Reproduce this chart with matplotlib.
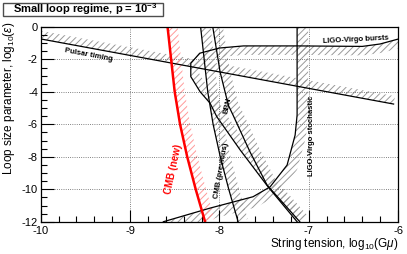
import numpy as np
import matplotlib
matplotlib.use("Agg")
import matplotlib.pyplot as plt
from matplotlib.patches import Polygon, Rectangle
from matplotlib.ticker import MultipleLocator

plt.rcParams['font.family'] = ['Liberation Sans', 'DejaVu Sans']
plt.rcParams['mathtext.fontset'] = 'custom'
plt.rcParams['mathtext.rm'] = 'Liberation Sans'
plt.rcParams['mathtext.it'] = 'Liberation Sans:italic'
plt.rcParams['mathtext.bf'] = 'Liberation Sans:bold'
plt.rcParams['axes.unicode_minus'] = False
plt.rcParams['hatch.linewidth'] = 0.7

# curves (log10 G mu, log10 epsilon)
pulsar_x = [-10.0, -6.05]
pulsar_y = [-0.74, -4.75]

cmb_new_x = [-8.58, -8.54, -8.50, -8.44, -8.36, -8.265, -8.16]
cmb_new_y = [0, -2, -4, -6, -8, -10, -12]

cmb_prev_x = [-8.21, -8.17, -8.13, -8.07, -7.99, -7.895, -7.79]
cmb_prev_y = [0, -2, -4, -6, -8, -10, -12]

bbn_x = [-8.074, -7.992, -7.899, -7.847, -7.656, -7.466, -7.10]
bbn_y = [0, -2.77, -4.83, -5.43, -7.71, -9.74, -12]

bursts_x = [-6.0, -6.2, -6.4, -7.1, -7.73, -8.0, -8.22, -8.32, -8.32, -8.216, -8.104, -8.029, -7.767, -7.455, -7.13]
bursts_y = [-0.75, -1.05, -1.2, -1.17, -1.17, -1.3, -1.62, -2.24, -3.06, -3.99, -4.70, -5.53, -7.58, -9.85, -12]

stoch_x = [-8.627, -8.104, -7.623, -7.432, -7.242, -7.152, -7.13, -7.13]
stoch_y = [-12.0, -11.16, -10.46, -9.85, -8.51, -6.66, -5.43, 0]


def hatched(ax, xs, ys, width, side, color):
    pts = ax.transData.transform(np.column_stack([xs, ys]))
    d = np.gradient(pts, axis=0)
    d /= np.linalg.norm(d, axis=1)[:, None]
    n = np.column_stack([-d[:, 1], d[:, 0]]) * side
    poly = np.vstack([pts, (pts + n * width)[::-1]])
    poly = ax.transData.inverted().transform(poly)
    ax.add_patch(Polygon(poly, closed=True, facecolor='none', edgecolor=color,
                         hatch='/////', linewidth=0))


def main():
    fig = plt.figure(figsize=(4.07, 2.54), dpi=100)
    ax = fig.add_axes([0.1, 0.127, 0.878, 0.767])
    ax.set_xlim(-10, -6)
    ax.set_ylim(-12, 0)

    ax.xaxis.set_major_locator(MultipleLocator(1))
    ax.xaxis.set_minor_locator(MultipleLocator(0.2))
    ax.yaxis.set_major_locator(MultipleLocator(2))
    ax.yaxis.set_minor_locator(MultipleLocator(0.5))
    ax.tick_params(which='both', direction='in', labelsize=8, width=0.8)
    ax.tick_params(which='major', length=9)
    ax.tick_params(which='minor', length=4.5)
    ax.tick_params(axis='y', pad=2)
    ax.tick_params(axis='x', pad=3)
    ax.grid(True, which='major', linestyle=':', color='0.35', linewidth=0.6)
    for s in ax.spines.values():
        s.set_linewidth(0.9)

    grey = '#999999'
    hatched(ax, pulsar_x, pulsar_y, 8, 1, grey)
    hatched(ax, cmb_prev_x, cmb_prev_y, 10, 1, grey)
    hatched(ax, bbn_x, bbn_y, 10, 1, grey)
    hatched(ax, bursts_x, bursts_y, 9, 1, grey)
    hatched(ax, stoch_x, stoch_y, 11, -1, grey)
    hatched(ax, cmb_new_x, cmb_new_y, 10, 1, '#ff9999')

    lw = 0.9
    ax.plot(pulsar_x, pulsar_y, color='k', lw=lw)
    ax.plot(cmb_prev_x, cmb_prev_y, color='k', lw=lw)
    ax.plot(bbn_x, bbn_y, color='k', lw=lw)
    ax.plot(bursts_x, bursts_y, color='k', lw=lw)
    ax.plot(stoch_x, stoch_y, color='k', lw=lw)
    ax.plot(cmb_new_x, cmb_new_y, color='#ff0000', lw=1.8)

    fs = 5.5
    ax.text(-9.46, -1.73, 'Pulsar timing', fontsize=fs, fontweight='bold',
            rotation=-10.5, ha='center', va='center')
    ax.text(-6.47, -0.77, 'LIGO-Virgo bursts', fontsize=fs, fontweight='bold',
            rotation=3, ha='center', va='center')
    ax.text(-7.91, -4.83, 'BBN', fontsize=fs, fontweight='bold',
            rotation=78, ha='center', va='center')
    ax.text(-7.98, -8.82, 'CMB (previous)', fontsize=fs, fontweight='bold',
            rotation=80, ha='center', va='center')
    ax.text(-6.97, -6.72, 'LIGO-Virgo stochastic', fontsize=fs, fontweight='bold',
            rotation=90, ha='center', va='center')
    ax.text(-8.52, -8.75, 'CMB (new)', fontsize=7, fontweight='bold', color='#ff0000',
            rotation=78, ha='center', va='center')

    fig.text(398 / 407, 1 - 247 / 254, r'String tension, log$_{10}$(G$\mu$)',
             fontsize=8.5, ha='right', va='baseline')
    fig.text(0.022, 1 - 22 / 254, r'Loop size parameter, log$_{10}$($\epsilon$)',
             fontsize=8.5, rotation=90, ha='center', va='top')

    fig.patches.append(Rectangle((3 / 407, 1 - 16 / 254), 160 / 407, 13 / 254,
                                 transform=fig.transFigure, facecolor='white',
                                 edgecolor='0.3', linewidth=1))
    fig.text(85 / 407, 1 - 9.5 / 254, r'Small loop regime, p = 10$^{\mathbf{-3}}$',
             fontsize=8, fontweight='bold', ha='center', va='center')

    fig.savefig('out.png', dpi=100)


if __name__ == "__main__":
    main()
